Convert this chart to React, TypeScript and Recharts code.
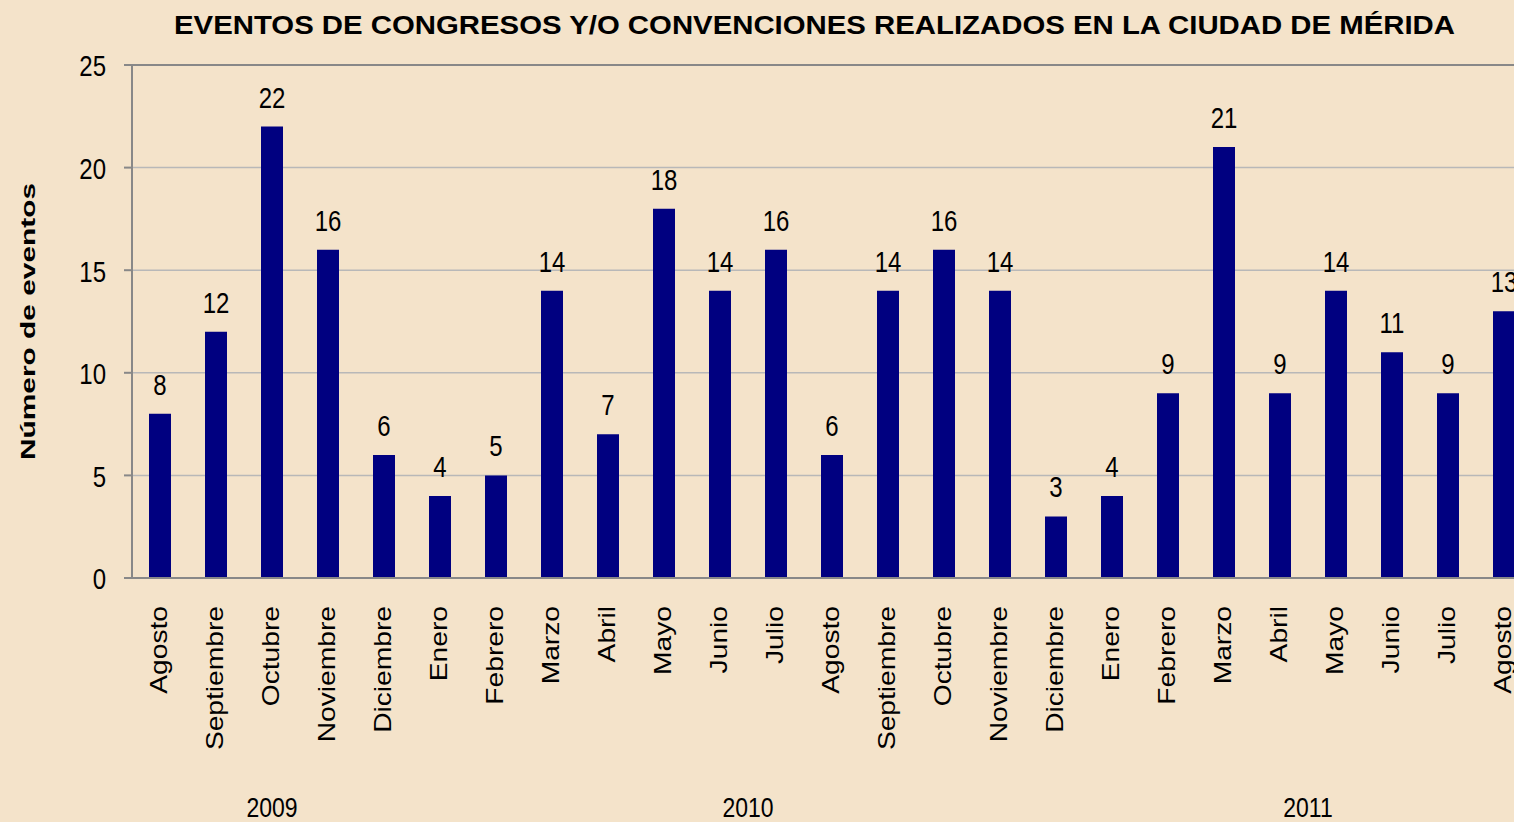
import { Bar, BarChart, CartesianGrid, LabelList, ReferenceLine, XAxis, YAxis } from "recharts"

const months = [
  "Agosto", "Septiembre", "Octubre", "Noviembre", "Diciembre",
  "Enero", "Febrero", "Marzo", "Abril", "Mayo", "Junio", "Julio",
  "Agosto", "Septiembre", "Octubre", "Noviembre", "Diciembre",
  "Enero", "Febrero", "Marzo", "Abril", "Mayo", "Junio", "Julio", "Agosto",
]
const events = [8, 12, 22, 16, 6, 4, 5, 14, 7, 18, 14, 16, 6, 14, 16, 14, 3, 4, 9, 21, 9, 14, 11, 9, 13]
const yearGroups = [
  { year: "2009", first: 0, last: 4 },
  { year: "2010", first: 5, last: 16 },
  { year: "2011", first: 17, last: 24 },
]
const yTicks = [0, 5, 10, 15, 20, 25]

const data = months.map((m, i) => ({ key: String(i), month: m, eventos: events[i] }))

const W = 1542
const H = 822
const margin = { top: 65, right: 10, bottom: 0, left: 1 }
const yAxisWidth = 131
const band = (W - margin.left - margin.right - yAxisWidth) / months.length

const SY = 1.2 // text in the source is stretched vertically
const FONT = "'Liberation Sans', Arial, sans-serif"
const BG = "#f4e3ca"
const AXIS = "#888888"

function YTick({ x, y, payload }: any) {
  const fs = 24
  return (
    <text
      transform={`translate(${x},${y + (fs * 0.716 * SY) / 2 + 1}) scale(1,${SY})`}
      textAnchor="end"
      fontSize={fs}
      fontFamily={FONT}
      fill="#000"
    >
      {payload.value}
    </text>
  )
}

function XTick({ x, y, payload }: any) {
  const i = Number(payload.value)
  const group = yearGroups.find((g) => Math.floor((g.first + g.last) / 2) === i)
  const gx = group ? x + ((group.first + group.last) % 2 ? band / 2 : 0) : 0
  return (
    <g>
      <text
        transform={`translate(${x + 7},${y}) rotate(-90) scale(${SY},1)`}
        textAnchor="end"
        fontSize={23.5}
        fontFamily={FONT}
        fill="#000"
      >
        {months[i]}
      </text>
      {group && (
        <text
          transform={`translate(${gx},${H - 5}) scale(1,${SY})`}
          textAnchor="middle"
          fontSize={23}
          fontFamily={FONT}
          fill="#000"
        >
          {group.year}
        </text>
      )}
    </g>
  )
}

function ValueLabel(p: any) {
  return (
    <text
      transform={`translate(${p.x + p.width / 2},${p.y - 19}) scale(1,${SY})`}
      textAnchor="middle"
      fontSize={24}
      fontFamily={FONT}
      fill="#000"
    >
      {p.value}
    </text>
  )
}

export default function App() {
  return (
    <div
      style={{
        position: "fixed",
        left: 0,
        top: 0,
        width: 1514,
        height: 822,
        overflow: "hidden",
        background: BG,
      }}
    >
      <BarChart width={W} height={H} data={data} margin={margin} barSize={22}>
        <CartesianGrid vertical={false} stroke="#b8b8b8" strokeWidth={1.5} />
        <ReferenceLine y={25} stroke={AXIS} strokeWidth={2} />
        <XAxis
          dataKey="key"
          height={H - 578}
          interval={0}
          tickSize={0}
          tickMargin={28}
          tickLine={false}
          axisLine={{ stroke: AXIS, strokeWidth: 2 }}
          tick={(p: any) => <XTick {...p} />}
        />
        <YAxis
          width={yAxisWidth}
          domain={[0, 25]}
          ticks={yTicks}
          interval={0}
          tickSize={8}
          tickMargin={18}
          axisLine={{ stroke: AXIS, strokeWidth: 2 }}
          tickLine={{ stroke: AXIS, strokeWidth: 2 }}
          tick={(p: any) => <YTick {...p} />}
        />
        <Bar dataKey="eventos" fill="#000080" isAnimationActive={false}>
          <LabelList dataKey="eventos" content={(p: any) => <ValueLabel {...p} />} />
        </Bar>
      </BarChart>
      <svg
        width={1514}
        height={822}
        style={{ position: "absolute", left: 0, top: 0, pointerEvents: "none" }}
      >
        <text
          x={814.5}
          y={34}
          textAnchor="middle"
          fontSize={25}
          fontWeight="bold"
          fontFamily={FONT}
          textLength={1281}
          lengthAdjust="spacingAndGlyphs"
          fill="#000"
        >
          EVENTOS DE CONGRESOS Y/O CONVENCIONES REALIZADOS EN LA CIUDAD DE MÉRIDA
        </text>
        <text
          transform="translate(35,321.5) rotate(-90)"
          textAnchor="middle"
          fontSize={21}
          fontWeight="bold"
          fontFamily={FONT}
          textLength={277}
          lengthAdjust="spacingAndGlyphs"
          fill="#000"
        >
          Número de eventos
        </text>
      </svg>
    </div>
  )
}
